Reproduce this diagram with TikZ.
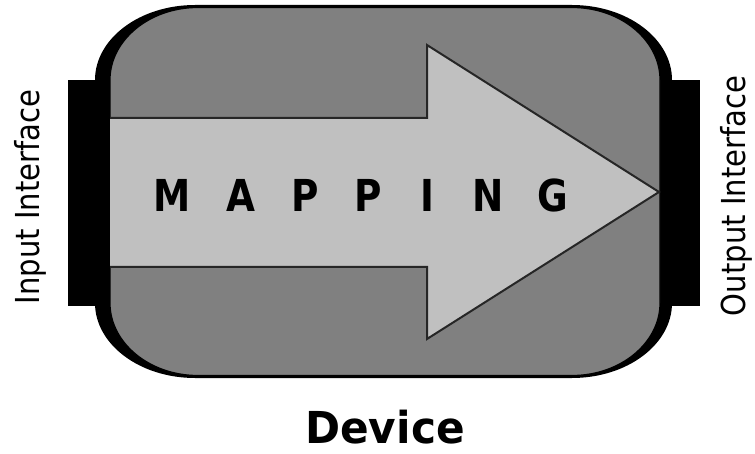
\documentclass[tikz,border=0pt]{standalone}
\usepackage{fontspec}
\setmainfont{DejaVu Sans}
\definecolor{bodygray}{HTML}{808080}
\definecolor{arrowgray}{HTML}{C0C0C0}
\begin{document}
\begin{tikzpicture}[x=1pt,y=-1pt,
  sidelabel/.style={inner sep=0pt,rotate=90,anchor=base,
    font=\fontsize{33}{40}\selectfont},
  letter/.style={inner sep=0pt,anchor=base,
    font=\fontsize{44}{50}\selectfont\bfseries},
  caption/.style={inner sep=0pt,anchor=base,
    font=\fontsize{44}{50}\selectfont\bfseries}]
\useasboundingbox (0,0) rectangle (755,454);

% interface plugs on both sides
\fill[black] (68,80) rectangle (110,306);
\fill[black] (660,80) rectangle (700,306);

% device body: black casing
\fill[black] (95,80) .. controls (95,38.6) and (139.8,5) .. (195,5)
  -- (572,5) .. controls (627.2,5) and (672,38.6) .. (672,80)
  -- (672,303) .. controls (672,344.4) and (627.2,378) .. (572,378)
  -- (195,378) .. controls (139.8,378) and (95,344.4) .. (95,303) -- cycle;

% device body: gray face
\filldraw[fill=bodygray,draw=black,line width=1.2pt]
  (110,80) .. controls (110,40.2) and (149.4,7.5) .. (198,7.5)
  -- (572,7.5) .. controls (620.6,7.5) and (660,40.2) .. (660,80)
  -- (660,303) .. controls (660,342.8) and (620.6,375.5) .. (572,375.5)
  -- (198,375.5) .. controls (149.4,375.5) and (110,342.8) .. (110,303) -- cycle;

% mapping arrow
\fill[arrowgray] (110,118) -- (427,118) -- (427,45) -- (659,192)
  -- (427,339) -- (427,267) -- (110,267) -- cycle;
\draw[black!85,line width=2pt,line join=miter]
  (110,118) -- (427,118) -- (427,45) -- (659,192)
  -- (427,339) -- (427,267) -- (110,267);

% arrow lettering
\foreach \ch/\px [count=\i] in {M/172.5,A/241,P/305,P/368,I/427,N/488,G/553}
  \node[letter] (map\i) at (\px,212) {\scalebox{0.85}[1]{\ch}};

% side labels and caption
\node[sidelabel] (input) at (39,197) {\scalebox{0.88}[1]{Input Interface}};
\node[sidelabel] (output) at (745,196) {\scalebox{0.88}[1]{Output Interface}};
\node[caption] (device) at (385,443) {\scalebox{0.96}[1]{Device}};
\end{tikzpicture}
\end{document}
